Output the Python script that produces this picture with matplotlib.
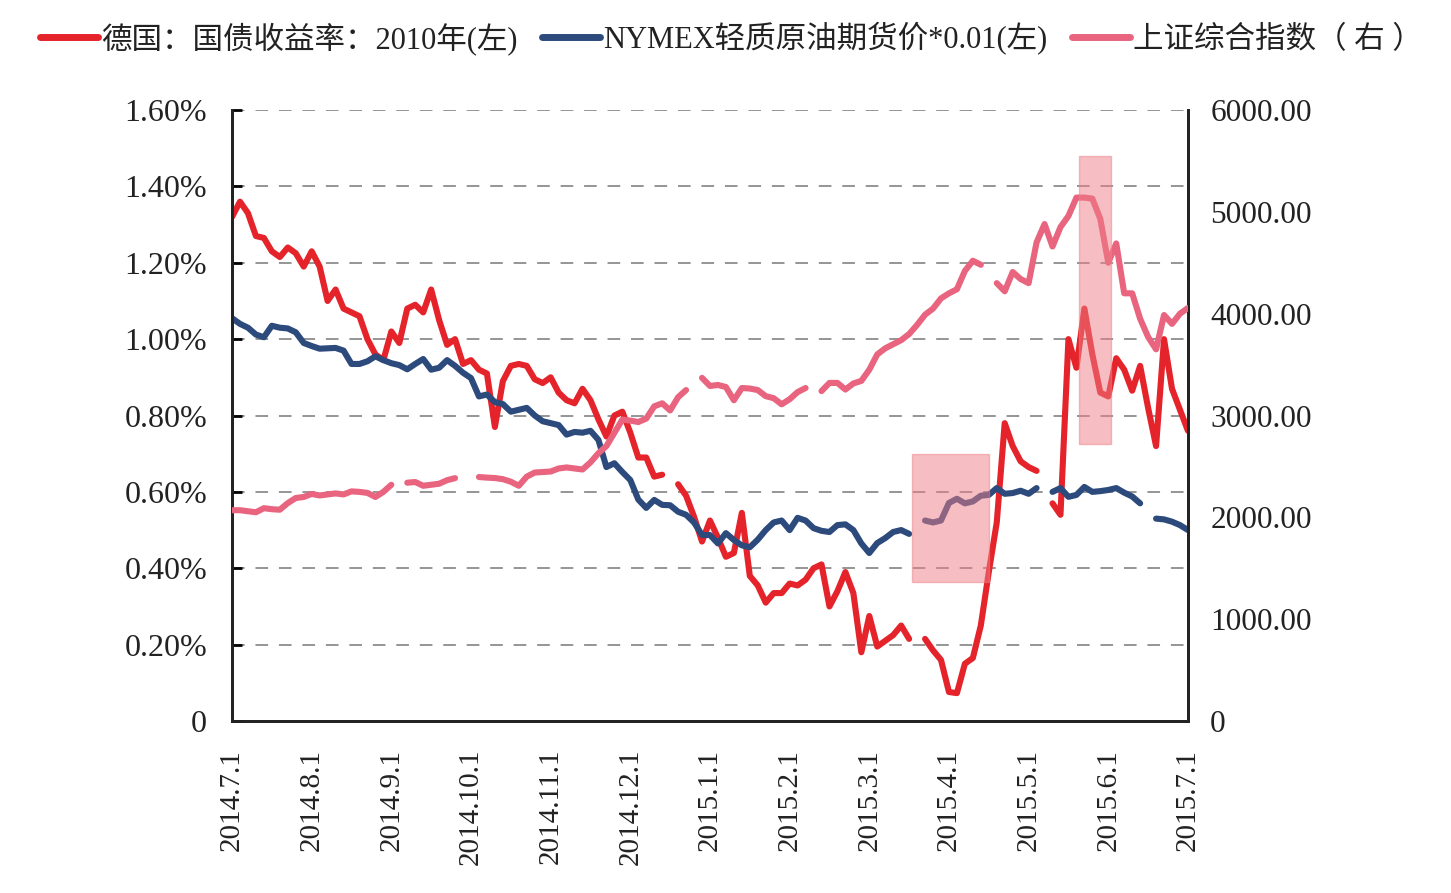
import numpy as np
import matplotlib
matplotlib.use("Agg")
import matplotlib.pyplot as plt
from matplotlib.patches import Rectangle
from matplotlib.ticker import FuncFormatter

plt.rcParams['font.family'] = ['Liberation Serif', 'Noto Sans CJK SC', 'DejaVu Sans']

nan = np.nan

# month labels (x axis runs 2014.7.1 -> 2015.7.1, samples every 0.1 month)
month_labels = ['2014.7.1', '2014.8.1', '2014.9.1', '2014.10.1', '2014.11.1', '2014.12.1',
                '2015.1.1', '2015.2.1', '2015.3.1', '2015.4.1', '2015.5.1', '2015.6.1', '2015.7.1']

# German 10y bund yield, %  (left axis)
bund = [1.32, 1.36, 1.33, 1.27, 1.265, 1.23, 1.215, 1.24, 1.225, 1.19,
        1.23, 1.19, 1.10, 1.13, 1.08, 1.07, 1.06, 1.00, 0.96, 0.945,
        1.02, 0.99, 1.08, 1.09, 1.07, 1.13, 1.05, 0.985, 1.00, 0.935,
        0.945, 0.92, 0.91, 0.77, 0.89, 0.93, 0.935, 0.93, 0.895, 0.885,
        0.90, 0.86, 0.84, 0.832, 0.87, 0.84, 0.79, 0.745, 0.80, 0.81,
        0.755, 0.69, 0.69, 0.64, 0.645, nan, 0.62, 0.59, 0.535, 0.47,
        0.525, 0.48, 0.43, 0.44, 0.545, 0.38, 0.355, 0.31, 0.335, 0.335,
        0.36, 0.355, 0.37, 0.40, 0.41, 0.30, 0.34, 0.39, 0.335, 0.18,
        0.275, 0.195, 0.21, 0.225, 0.25, 0.215, nan, 0.215, 0.185, 0.16,
        0.076, 0.073, 0.15, 0.165, 0.25, 0.39, 0.52, 0.78, 0.72, 0.68,
        0.665, 0.655, nan, 0.57, 0.54, 1.00, 0.925, 1.08, 0.96, 0.86,
        0.85, 0.95, 0.92, 0.865, 0.93, 0.82, 0.72, 1.00, 0.87, 0.815,
        0.76]

# NYMEX light crude futures * 0.01  (left axis)
oil = [1.055, 1.04, 1.03, 1.012, 1.005, 1.035, 1.03, 1.028, 1.018, 0.99,
       0.982, 0.975, 0.976, 0.977, 0.97, 0.935, 0.935, 0.942, 0.955, 0.945,
       0.937, 0.932, 0.921, 0.935, 0.948, 0.92, 0.925, 0.945, 0.93, 0.912,
       0.898, 0.85, 0.855, 0.835, 0.83, 0.81, 0.815, 0.82, 0.80, 0.785,
       0.78, 0.775, 0.75, 0.757, 0.755, 0.76, 0.736, 0.665, 0.675, 0.652,
       0.631, 0.58, 0.558, 0.579, 0.566, 0.565, 0.548, 0.54, 0.52, 0.487,
       0.487, 0.465, 0.492, 0.474, 0.46, 0.455, 0.475, 0.50, 0.52, 0.525,
       0.50, 0.532, 0.525, 0.505, 0.498, 0.495, 0.513, 0.515, 0.50, 0.465,
       0.44, 0.466, 0.479, 0.495, 0.50, 0.49, nan, 0.525, 0.52, 0.525,
       0.571, 0.582, 0.57, 0.575, 0.59, 0.592, 0.61, 0.595, 0.597, 0.603,
       0.595, 0.61, nan, 0.60, 0.61, 0.587, 0.592, 0.613, 0.60, 0.602,
       0.605, 0.61, 0.598, 0.588, 0.57, nan, 0.53, 0.528, 0.522, 0.513,
       0.50]

# Shanghai Composite index (right axis)
shcomp = [2070, 2070, 2060, 2050, 2090, 2080, 2075, 2140, 2190, 2200,
          2230, 2215, 2225, 2235, 2225, 2255, 2250, 2240, 2200, 2250,
          2320, nan, 2340, 2347, 2310, 2320, 2330, 2365, 2385, nan,
          nan, 2396, 2390, 2386, 2375, 2350, 2310, 2400, 2440, 2445,
          2450, 2480, 2490, 2480, 2470, 2540, 2630, 2700, 2830, 2960,
          2950, 2936, 2970, 3090, 3120, 3050, 3180, 3250, nan, 3370,
          3290, 3300, 3280, 3150, 3270, 3265, 3250, 3190, 3170, 3110,
          3160, 3230, 3270, nan, 3240, 3320, 3320, 3255, 3315, 3340,
          3450, 3600, 3660, 3700, 3740, 3800, 3890, 3990, 4050, 4150,
          4200, 4240, 4420, 4520, 4480, nan, 4300, 4220, 4409, 4340,
          4300, 4700, 4880, 4660, 4850, 4960, 5140, 5140, 5130, 4930,
          4500, 4690, 4200, 4200, 3950, 3771, 3650, 3987, 3900, 4000,
          4056]

# highlighted windows: (start month, end month, low %, high %)
boxes = [(8.54, 9.50, 0.364, 0.699), (10.63, 11.04, 0.725, 1.479)]

t = np.arange(len(bund)) / 10.0

red = '#E5232B'
blue = '#2D4A7C'
pink = '#E9647E'

fig = plt.figure(figsize=(14.51, 8.93), dpi=100)
ax = fig.add_axes([0.1599, 0.1926, 0.6588, 0.6842])
ax2 = ax.twinx()

ax.plot(t, bund, color=red, lw=4.4, solid_capstyle='round', zorder=3)
ax.plot(t, oil, color=blue, lw=4.4, solid_capstyle='round', zorder=3)
ax2.plot(t, shcomp, color=pink, lw=4.4, solid_capstyle='round', zorder=3)

for x0, x1, y0, y1 in boxes:
    ax2.add_patch(Rectangle((x0, y0), x1 - x0, y1 - y0, transform=ax.transData,
                            facecolor='#EE7F86', edgecolor='#EE7F86', alpha=0.5,
                            lw=1, zorder=5))

ax.set_xlim(0, 12)
ax.set_ylim(0, 1.6)
ax2.set_ylim(0, 6000)

ax.set_yticks(np.arange(0, 1.61, 0.2))
ax.yaxis.set_major_formatter(FuncFormatter(lambda v, p: '0' if v == 0 else f'{v:.2f}%'))
ax2.set_yticks(np.arange(0, 6001, 1000))
ax2.yaxis.set_major_formatter(FuncFormatter(lambda v, p: '0' if v == 0 else f'{v:.2f}'))

ax.set_xticks(np.arange(13))
ax.set_xticklabels(month_labels, rotation=90, fontsize=21, color='#222222')
ax.tick_params(axis='x', length=0, pad=20)
ax.tick_params(axis='y', direction='in', length=7, width=2, labelsize=23,
               pad=18, labelcolor='#222222')
ax2.tick_params(axis='y', direction='in', length=0, labelsize=22.5,
                pad=16, labelcolor='#222222')

for v in np.arange(0.2, 1.61, 0.2):
    ax.axhline(v, color='#8c8c8c', lw=1.3, ls=(0, (7, 6)), zorder=1)

for a in (ax, ax2):
    a.spines['top'].set_visible(False)
    for s in ('left', 'right', 'bottom'):
        a.spines[s].set_linewidth(2)
        a.spines[s].set_color('#222222')

handles = [plt.Line2D([], [], color=c, lw=5, solid_capstyle='round') for c in (red, blue, pink)]
labels = ['德国：国债收益率：2010年(左)', 'NYMEX轻质原油期货价*0.01(左)', '上证综合指数（ 右 ）']
fig.legend(handles, labels, loc='upper center', bbox_to_anchor=(0.504, 1.006), ncol=3,
           frameon=False, fontsize=22, handlelength=1.9, handletextpad=0.1,
           columnspacing=0.8, labelcolor='#222222')

fig.savefig('out.png', dpi=100)
